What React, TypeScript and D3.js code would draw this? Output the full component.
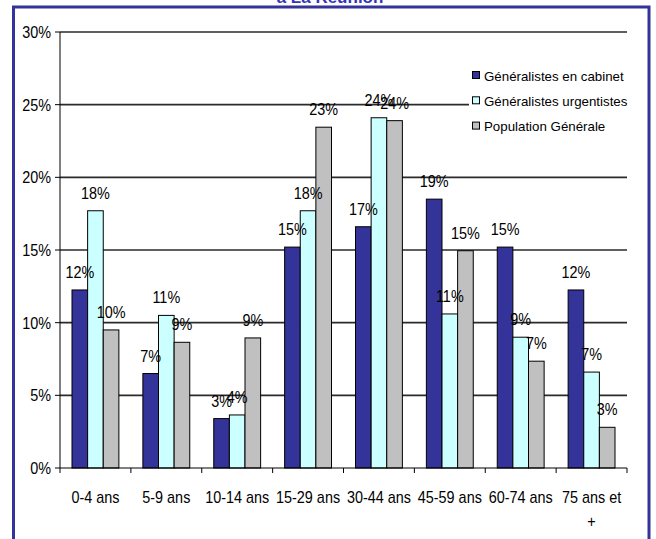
import React from "react";
import * as d3 from "d3";

const categories = ["0-4 ans", "5-9 ans", "10-14 ans", "15-29 ans", "30-44 ans", "45-59 ans", "60-74 ans", "75 ans et +"];
const seriesNames = ["Généralistes en cabinet", "Généralistes urgentistes", "Population Générale"];
const cabinet = [12.25, 6.5, 3.4, 15.2, 16.6, 18.5, 15.2, 12.25];
const urgentistes = [17.7, 10.5, 3.65, 17.7, 24.1, 10.6, 9.0, 6.6];
const population = [9.5, 8.65, 8.95, 23.45, 23.9, 14.95, 7.35, 2.8];
const yTicks = [0, 5, 10, 15, 20, 25, 30];
const colors = ["#333399", "#CCFFFF", "#C0C0C0"];
const title = "à La Réunion";

const W = 656;
const H = 539;
const FONT = "'Liberation Sans', Arial, sans-serif";

function Label({ x, y, children, anchor = "middle", size = 16, sx = 0.9, weight = "normal", fill = "#000" }: any) {
  return (
    <text
      transform={`translate(${x},${y}) scale(${sx},1)`}
      textAnchor={anchor}
      fontSize={size}
      fontFamily={FONT}
      fontWeight={weight}
      fill={fill}
    >
      {children}
    </text>
  );
}

export default function App() {
  const series = [cabinet, urgentistes, population];
  const x = d3.scaleBand<string>().domain(categories).range([60, 627]);
  const bw = x.bandwidth();
  const xs = d3.scaleBand<number>().domain([0, 1, 2]).range([12, bw - 12]);
  const y = d3.scaleLinear().domain([0, 30]).range([468, 32]);

  return (
    <svg
      width={W}
      height={H}
      style={{ position: "fixed", left: 0, top: 0, background: "#fff" }}
    >
      <rect x={0} y={0} width={W} height={H} fill="#fff" />
      {/* frame */}
      <rect x={13.5} y={7} width={635.5} height={H} fill="none" stroke="#333399" strokeWidth={3} />
      <Label x={330} y={2.5} size={17} sx={1} weight="bold" fill="#3333BB">{title}</Label>

      {/* grid lines */}
      {yTicks.filter((t) => t > 0).map((t) => (
        <line key={t} x1={60} x2={627} y1={y(t)} y2={y(t)} stroke="#2a2a2a" strokeWidth={1.6} />
      ))}

      {/* bars */}
      {categories.map((c, i) =>
        series.map((s, k) => (
          <rect
            key={c + k}
            x={(x(c) as number) + (xs(k) as number)}
            y={y(s[i])}
            width={xs.bandwidth()}
            height={y(0) - y(s[i])}
            fill={colors[k]}
            stroke="#000"
            strokeWidth={1}
          />
        ))
      )}

      {/* value labels */}
      {categories.map((c, i) =>
        series.map((s, k) => (
          <Label
            key={"l" + c + k}
            x={(x(c) as number) + (xs(k) as number) + xs.bandwidth() / 2}
            y={y(s[i]) - 12}
          >
            {`${Math.round(s[i])}%`}
          </Label>
        ))
      )}

      {/* y axis */}
      <line x1={60} x2={60} y1={y(30)} y2={y(0)} stroke="#000" strokeWidth={1} />
      {yTicks.map((t) => (
        <g key={"yt" + t}>
          <line x1={55} x2={60} y1={y(t)} y2={y(t)} stroke="#000" strokeWidth={1} />
          <Label x={51} y={y(t) + 6} anchor="end">{`${t}%`}</Label>
        </g>
      ))}

      {/* x axis */}
      <line x1={60} x2={627} y1={y(0)} y2={y(0)} stroke="#000" strokeWidth={1} />
      {[...categories.map((c) => x(c) as number), 627].map((px, i) => (
        <line key={"xt" + i} x1={px} x2={px} y1={y(0)} y2={y(0) + 5} stroke="#000" strokeWidth={1} />
      ))}
      {categories.map((c) => {
        const cx = (x(c) as number) + bw / 2;
        const lines = c === "75 ans et +" ? ["75 ans et", "+"] : [c];
        return lines.map((ln, j) => (
          <Label key={"xl" + c + j} x={cx} y={503 + j * 24}>{ln}</Label>
        ));
      })}

      {/* legend */}
      <rect x={469} y={52} width={160} height={98} fill="#fff" />
      {seriesNames.map((n, k) => (
        <g key={"lg" + k}>
          <rect x={472.5} y={71.5 + k * 25.3} width={7} height={7} fill={colors[k]} stroke="#000" strokeWidth={1} />
          <Label x={484} y={80.5 + k * 25.3} anchor="start" size={13.3} sx={1}>{n}</Label>
        </g>
      ))}
    </svg>
  );
}
